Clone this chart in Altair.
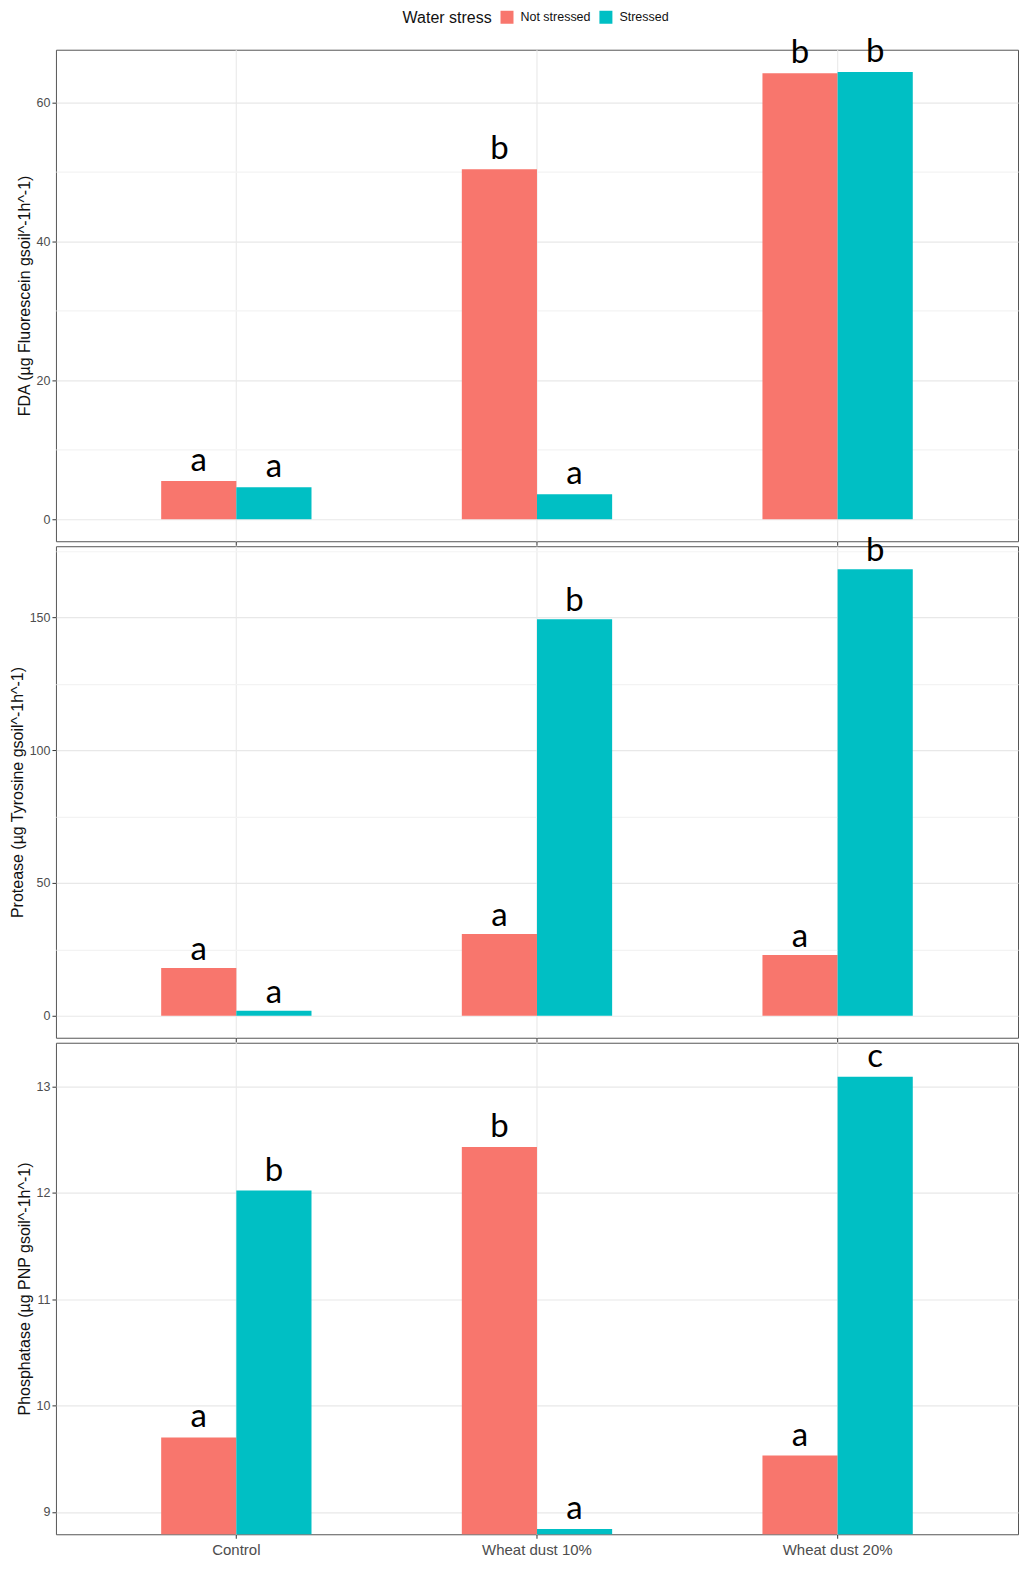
import altair as alt
import pandas as pd

categories = ["Control", "Wheat dust 10%", "Wheat dust 20%"]
groups = ["Not stressed", "Stressed"]

fda_ns = [5.5, 50.4, 64.2]
fda_s = [4.6, 3.6, 64.4]
fda_ns_let = ["a", "b", "b"]
fda_s_let = ["a", "a", "b"]

prot_ns = [18.0, 30.8, 22.9]
prot_s = [1.9, 149.2, 168.0]
prot_ns_let = ["a", "a", "a"]
prot_s_let = ["a", "b", "b"]

phos_ns = [9.70, 12.43, 9.53]
phos_s = [12.02, 8.84, 13.09]
phos_ns_let = ["a", "b", "a"]
phos_s_let = ["b", "a", "c"]

fda_ticks = [0, 10, 20, 30, 40, 50, 60]
prot_ticks = [0, 25, 50, 75, 100, 125, 150, 175]
phos_ticks = [9, 9.5, 10, 10.5, 11, 11.5, 12, 12.5, 13]

COLORS = ["#F8766D", "#00BFC4"]


def frame(ns, s, ns_let, s_let):
    rows = []
    for i, c in enumerate(categories):
        rows.append({"category": c, "group": groups[0], "value": ns[i], "letter": ns_let[i]})
        rows.append({"category": c, "group": groups[1], "value": s[i], "letter": s_let[i]})
    return pd.DataFrame(rows)


def panel(df, title, domain, ticks, major, show_labels, dy):
    x = alt.X(
        "category:N",
        sort=categories,
        scale=alt.Scale(paddingInner=0.5, paddingOuter=0.35),
        axis=alt.Axis(
            title=None,
            labels=show_labels,
            bandPosition=0.5,
            grid=True,
            gridColor="#ebebeb",
            gridWidth=1.2,
            tickColor="#333333",
            tickSize=4,
            domain=False,
            labelAngle=0,
            labelFontSize=15,
            labelColor="#4d4d4d",
            labelPadding=4,
        ),
    )
    xo = alt.XOffset("group:N", sort=groups, scale=alt.Scale(paddingInner=0, paddingOuter=0))
    test = f"abs(datum.value / {major} - round(datum.value / {major})) < 0.001"
    y = alt.Y(
        "value:Q",
        scale=alt.Scale(domain=domain, nice=False, zero=False),
        axis=alt.Axis(
            title=title,
            values=ticks,
            format="d",
            labelExpr=f"{test} ? datum.label : ''",
            grid=True,
            gridColor={"condition": {"test": test, "value": "#e8e8e8"}, "value": "#f3f3f3"},
            gridWidth=1.2,
            tickOpacity={"condition": {"test": test, "value": 1}, "value": 0},
            tickColor="#333333",
            tickSize=4,
            domain=False,
            labelFontSize=12.5,
            labelColor="#4d4d4d",
            labelPadding=2,
            titleFontSize=16,
            titleFontWeight="normal",
            titleColor="#111111",
            titlePadding=4,
        ),
    )
    color = alt.Color(
        "group:N",
        scale=alt.Scale(domain=groups, range=COLORS),
        legend=alt.Legend(
            title="Water stress",
            orient="none",
            legendX=347,
            legendY=-39,
            direction="horizontal",
            titleOrient="left",
            titleFontSize=16,
            titleFontWeight="normal",
            titleColor="#111111",
            titlePadding=8,
            labelFontSize=12.5,
            labelColor="#111111",
            labelOffset=7,
            columnPadding=8,
            symbolType="square",
            symbolSize=169,
            symbolStrokeWidth=0,
            symbolOpacity=1,
        ),
    )
    bars = alt.Chart(df).mark_bar(clip=True, opacity=1).encode(x=x, xOffset=xo, y=y, color=color)
    text = alt.Chart(df).mark_text(
        font="Lato", fontSize=33, color="black", baseline="alphabetic", dy=dy
    ).encode(x=x, xOffset=xo, y="value:Q", text="letter:N")
    return alt.layer(bars, text).properties(width=963, height=492)


p1 = panel(frame(fda_ns, fda_s, fda_ns_let, fda_s_let),
           "FDA (µg Fluorescein gsoil^-1h^-1)", [-3.17, 67.6], fda_ticks, 20, False, -10)
p2 = panel(frame(prot_ns, prot_s, prot_ns_let, prot_s_let),
           "Protease (µg Tyrosine gsoil^-1h^-1)", [-8.27, 176.7], prot_ticks, 50, False, -8)
p3 = panel(frame(phos_ns, phos_s, phos_ns_let, phos_s_let),
           "Phosphatase (µg PNP gsoil^-1h^-1)", [8.79, 13.41], phos_ticks, 1, True, -10)

chart = alt.vconcat(p1, p2, p3, spacing=5, bounds="flush").properties(
    padding={"left": 0, "top": 2, "right": 0, "bottom": 0}
).configure(
    font="Liberation Sans",
    background="white",
).configure_view(
    stroke="#555555",
    strokeWidth=1,
)

chart.save("out.html", embed_options={"renderer": "svg", "actions": False})
